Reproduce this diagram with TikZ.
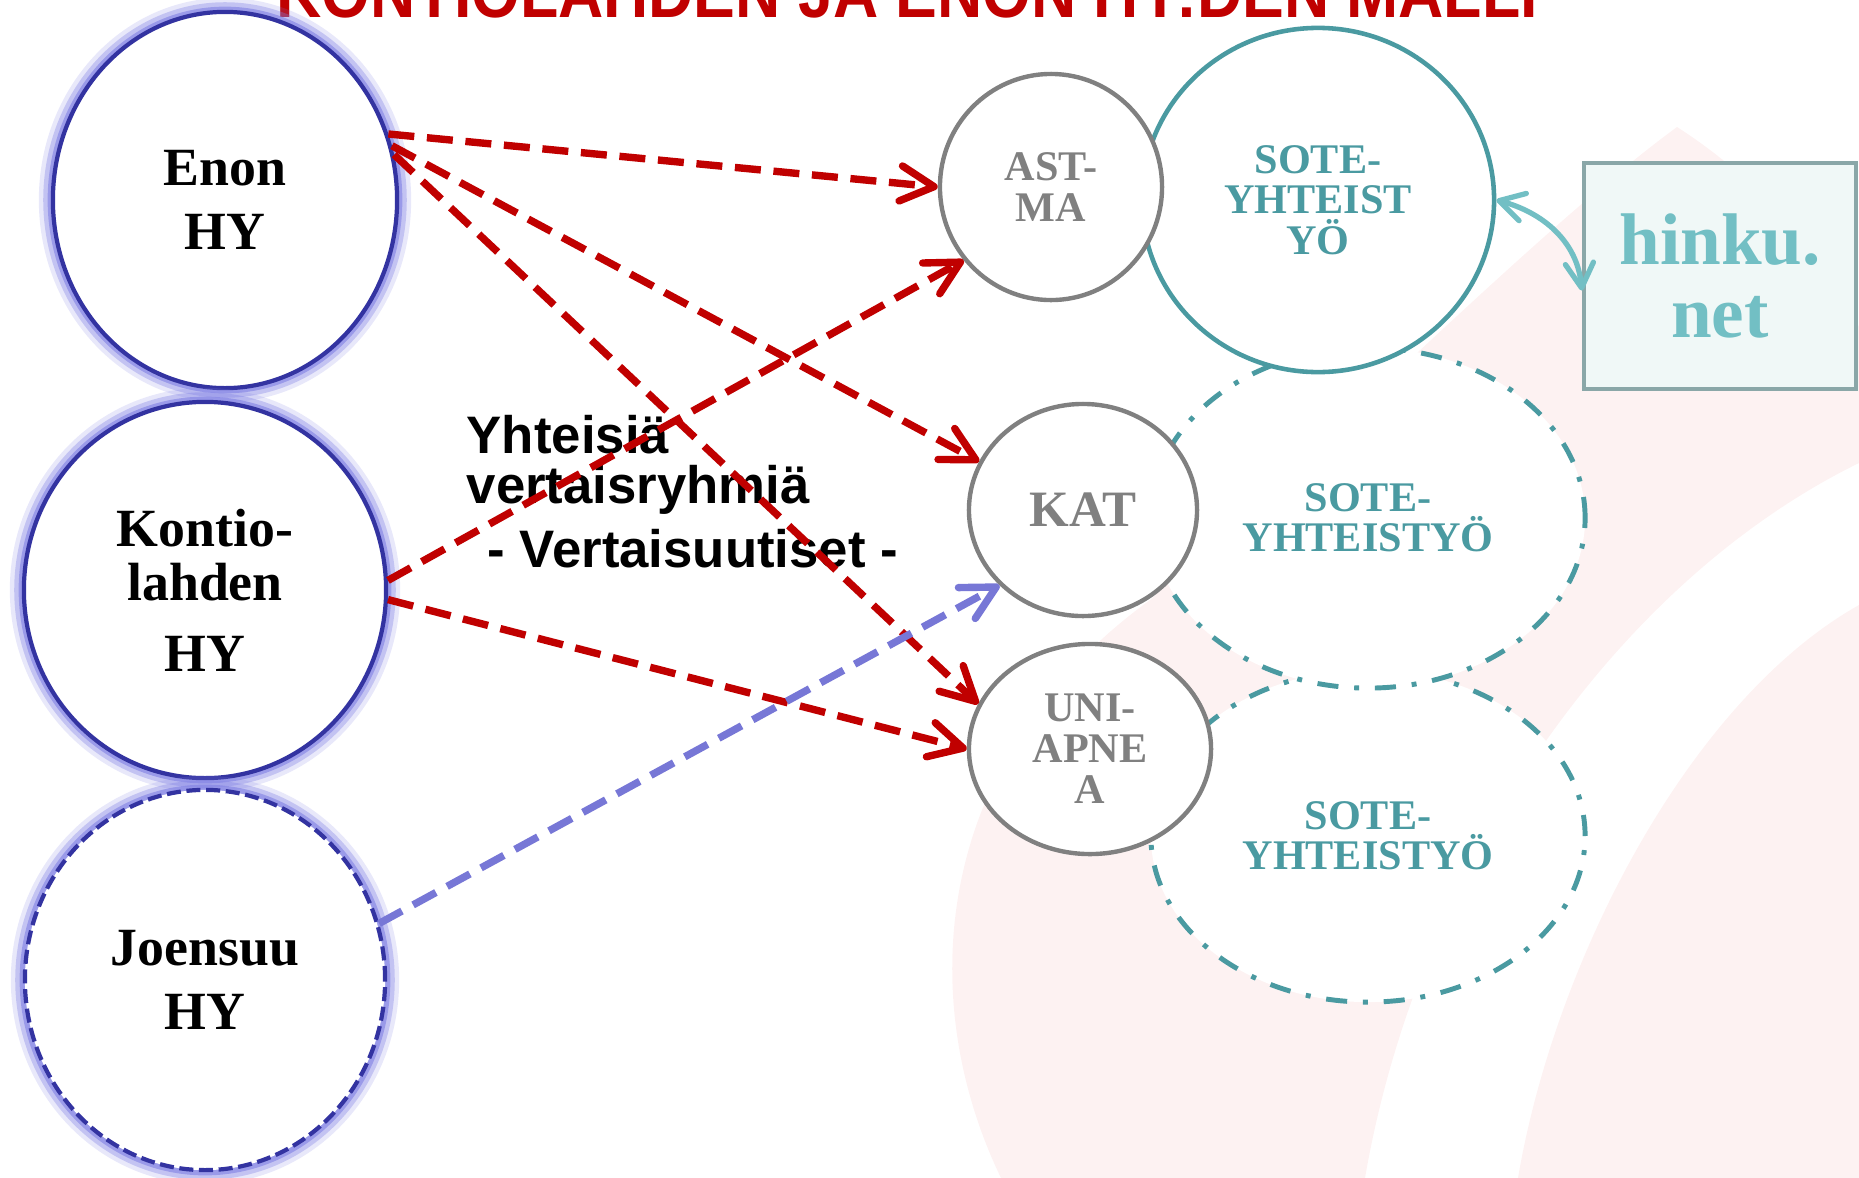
\documentclass[tikz,border=0pt]{standalone}
\usepackage{fontspec}
\setmainfont{Liberation Serif}
\newfontfamily\sansfont{Liberation Sans}
\newfontfamily\titlefont[FakeStretch=0.89]{Liberation Sans}
\usetikzlibrary{arrows.meta}
\usetikzlibrary{shapes.geometric}

\definecolor{hyblue}{HTML}{3333A1}
\definecolor{glowblue}{HTML}{7F7FE3}
\definecolor{peerred}{HTML}{C00000}
\definecolor{peerblue}{HTML}{7777D6}
\definecolor{sickgray}{HTML}{808080}
\definecolor{soteteal}{HTML}{4A9AA1}
\definecolor{hinkuteal}{HTML}{72BFC4}
\definecolor{hinkufill}{HTML}{F0F8F7}
\definecolor{hinkuedge}{HTML}{8AA7A8}
\definecolor{bgpink}{HTML}{FDF2F2}

\begin{document}
\begin{tikzpicture}[x=0.01cm,y=-0.01cm]
\tikzset{hy/.style = {ellipse,draw=hyblue,line width=1.2pt,fill=white,inner sep=0pt,align=center,
  font=\bfseries\fontsize{15.3}{18.2}\selectfont,
  preaction={draw=glowblue,solid,draw opacity=.18,line width=8pt},
  preaction={draw=glowblue,solid,draw opacity=.35,line width=5.5pt},
  preaction={draw=glowblue,solid,draw opacity=.6,line width=3pt}}}
\tikzset{sick/.style = {ellipse,draw=sickgray,line width=1.25pt,fill=white,inner sep=0pt,align=center,
  text=sickgray,font=\bfseries\fontsize{12}{11.7}\selectfont}}
\tikzset{sote/.style = {ellipse,draw=soteteal,line width=1.3pt,fill=white,inner sep=0pt,align=center,
  text=soteteal,font=\bfseries\fontsize{12}{11.5}\selectfont}}
\tikzset{sotedash/.style = {sote,line width=1.4pt,dash pattern=on 6pt off 4.5pt on 1.4pt off 4.5pt}}
\tikzset{peer/.style = {-{Straight Barb[length=9.5pt,width=10pt,round]},draw=peerred,line width=2.1pt,dash pattern=on 7.4pt off 3.6pt}}
\tikzset{peerjoe/.style = {peer,draw=peerblue}}
\useasboundingbox (0,0) rectangle (1859,1178);
\clip (0,0) rectangle (1859,1178);
% background
\fill[bgpink] (1001,1178) .. controls (915,1000) and (930,760) .. (1150,600)
  .. controls (1350,420) and (1550,220) .. (1677,127)
  .. controls (1760,180) and (1830,260) .. (1859,327) -- (1859,463)
  .. controls (1620,580) and (1420,860) .. (1365,1178) -- cycle;
\fill[bgpink] (1518,1178) .. controls (1555,960) and (1690,700) .. (1859,605) -- (1859,1178) -- cycle;
% title
\node[anchor=base west,inner sep=0pt,text=peerred,font=\titlefont\bfseries\fontsize{20}{24}\selectfont] (title) at (276,17) {KONTIOLAHDEN JA ENON HY:DEN MALLI};
% vertices
\node[sotedash,minimum width=4.34cm,minimum height=3.32cm] (sote3) at (1368,836) {SOTE-\\YHTEISTYÖ};
\node[sotedash,minimum width=4.34cm,minimum height=3.40cm] (sote2) at (1368,518) {SOTE-\\YHTEISTYÖ};
\node[sote,minimum width=3.52cm,minimum height=3.44cm] (sote1) at (1318,200) {SOTE-\\YHTEIST\\YÖ};
\node[sick,minimum width=2.22cm,minimum height=2.26cm] (astma) at (1051,187) {AST-\\MA};
\node[sick,minimum width=2.28cm,minimum height=2.12cm,font=\bfseries\fontsize{14.5}{16}\selectfont] (kat) at (1083,510) {KAT};
\node[sick,minimum width=2.42cm,minimum height=2.10cm] (uni) at (1090,749) {UNI-\\APNE\\A};
\node[rectangle,draw=hinkuedge,line width=1.2pt,fill=hinkufill,minimum width=2.72cm,minimum height=2.26cm,
  align=center,text=hinkuteal,font=\bfseries\fontsize{20.8}{20.5}\selectfont] (hinku) at (1720,276) {hinku.\\net};
\node[hy,minimum width=3.44cm,minimum height=3.76cm] (enon) at (225,200) {Enon\\HY};
\node[hy,minimum width=3.62cm,minimum height=3.76cm] (kontio) at (205,590) {Kontio-\\[-2.9pt]lahden\\[2pt]HY};
\node[hy,dash pattern=on 4pt off 1.6pt,minimum width=3.60cm,minimum height=3.80cm] (joensuu) at (205,980) {Joensuu\\HY};
\node[anchor=west,inner sep=0pt,align=left,font=\sansfont\bfseries\fontsize{15}{14.2}\selectfont] (ryhmat) at (466,465) {Yhteisiä\\vertaisryhmiä};
\node[anchor=base west,inner sep=0pt,font=\sansfont\bfseries\fontsize{15}{16}\selectfont] (uutiset) at (487,567) {- Vertaisuutiset -};
%edges
\draw[peer] (enon.22) -- (astma.west);
\draw[peer] (enon.18) -- (kat.155);
\draw[peer] (enon.15) -- (uni.158);
\draw[peer] (kontio.3) -- (astma.220);
\draw[peer] (kontio.-3) -- (uni.west);
\draw[peerjoe] (joensuu.18) -- (kat.222);
\draw[{Straight Barb[length=7pt,width=8pt,round]}-{Straight Barb[length=7pt,width=8pt,round]},draw=hinkuteal,line width=1.5pt] (sote1.east) to[out=-15,in=95] (hinku.186);
\end{tikzpicture}
\end{document}
